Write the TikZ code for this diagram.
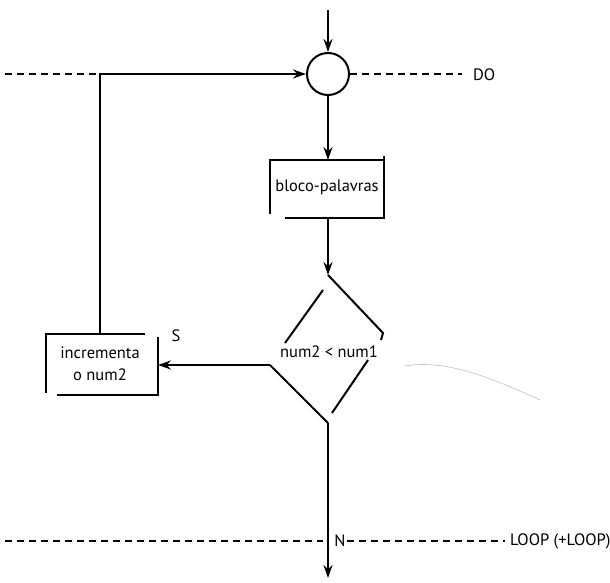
\documentclass[tikz,border=0pt]{standalone}
\usepackage{fontspec}
\setmainfont{PT Sans}
\usetikzlibrary{arrows.meta}
\begin{document}
\begin{tikzpicture}[x=1pt,y=-1pt, line width=2pt,
  flow/.style={-{Stealth[length=13pt,width=9pt]}},
  dashline/.style={dash pattern=on 7pt off 5pt, line width=1.6pt},
  lbl/.style={font=\fontsize{16.5}{22}\selectfont, inner sep=0pt, align=center}]
\useasboundingbox (0,0) rectangle (610,583);
% coordinates
\coordinate (top) at (328,10);
\node[circle, draw, minimum size=42pt, inner sep=0pt] (c) at (328,74) {};
\coordinate (fb) at (100,74);
\coordinate (lstart) at (5,74);
\coordinate (doL) at (462,74);
\node[lbl, anchor=west] (do) at (472,75) {DO};
% bloco-palavras box
\node[lbl] (bp) at (327,187) {bloco-palavras};
\coordinate (bpT) at (328,160);
\coordinate (bpB) at (328,218);
\draw (270,214) -- (270,160) -- (383,160);
\draw (384,156) -- (384,218) -- (285,218);
% decision
\coordinate (dT) at (328,275);
\coordinate (dR) at (383,333);
\coordinate (dL) at (270,365);
\coordinate (dB) at (328,423);
\node[lbl] (cond) at (329,352) {num2 < num1};
\draw (dT) -- (dR) -- ++(-2,7);
\draw (323,290) -- (285,343);
\draw (368,360) -- (332,413);
\draw (dL) -- (dB);
% incrementa box
\node[lbl] (inc) at (100,364) {incrementa\\o num2};
\coordinate (incR) at (158,365);
\coordinate (incT) at (100,334);
\draw (46,393) -- (46,334) -- (145,334);
\draw (158,337) -- (158,395) -- (57,395);
\node[lbl] (s) at (176,336) {S};
% bottom
\coordinate (end) at (328,578);
\coordinate (loopA) at (5,541);
\coordinate (loopB) at (323,541);
\node[lbl] (n) at (340,541) {N};
\coordinate (loopC) at (505,541);
\node[lbl, anchor=west] (loop) at (509,541) {LOOP (+LOOP)};
% connectors
\draw[flow] (top) -- (c);
\draw[flow] (c) -- (bpT);
\draw[flow] (bpB) -- (dT);
\draw[flow] (dL) -- (incR);
\draw[flow] (incT) -- (fb) -- (c);
\draw[dashline] (lstart) -- (fb);
\draw[dashline] (c) -- (doL);
\draw[flow] (dB) -- (end);
\draw[dashline] (loopA) -- (loopB);
\draw[dashline] (n.east) -- (loopC);
% faint smudge
\draw[line width=0.6pt, black!25] (405,366) .. controls (440,360) and (480,372) .. (540,400);
\end{tikzpicture}
\end{document}
